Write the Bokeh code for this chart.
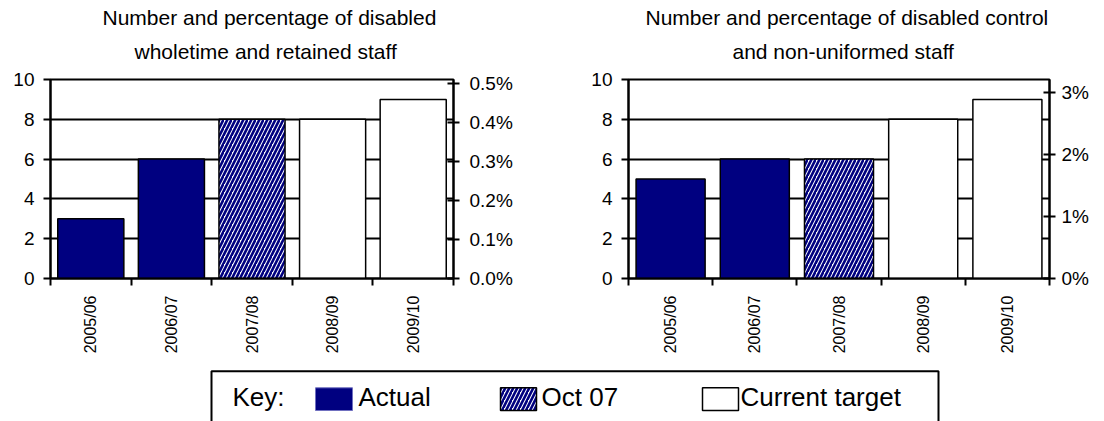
import math

from bokeh.core.properties import value
from bokeh.embed import file_html
from bokeh.layouts import column, row
from bokeh.models import (FixedTicker, Grid, LinearAxis, NumeralTickFormatter,
                          Range1d, Title)
from bokeh.plotting import figure
from bokeh.resources import INLINE

# ---- data -------------------------------------------------------------
years = ["2005/06", "2006/07", "2007/08", "2008/09", "2009/10"]
status = ["Actual", "Actual", "Oct 07", "Current target", "Current target"]
wholetime_retained = [3, 6, 8, 8, 9]
control_nonuniformed = [5, 6, 6, 8, 9]

count_ticks = [0, 2, 4, 6, 8, 10]
count_max = 10
wr_pct_ticks = [0.0, 0.001, 0.002, 0.003, 0.004, 0.005]
wr_pct_max = 0.0051
cn_pct_ticks = [0.0, 0.01, 0.02, 0.03]
cn_pct_max = 0.0321

wr_title = ["Number and percentage of disabled", "wholetime and retained staff"]
cn_title = ["Number and percentage of disabled control", "and non-uniformed staff"]

key_entries = ["Actual", "Oct 07", "Current target"]

# ---- styles -----------------------------------------------------------
FONT = "Liberation Sans"
NAVY = "#000080"
HATCH = dict(hatch_pattern="/", hatch_color=NAVY, hatch_scale=8,
             hatch_weight=2.6)
BAR_STYLE = {
    "Actual": dict(fill_color=NAVY),
    "Oct 07": dict(fill_color="white", **HATCH),
    "Current target": dict(fill_color="white"),
}
CHART_H = 360
BAR_W = 0.82


def make_chart(values, title_lines, pct_max, pct_ticks, pct_fmt, width,
               border_left, border_right, pct_standoff, title_offsets):
    n = len(years)
    p = figure(width=width, height=CHART_H, output_backend="svg",
               toolbar_location=None, x_axis_location=None,
               y_axis_location=None, x_range=Range1d(0, n),
               y_range=Range1d(0, count_max),
               min_border_left=border_left, min_border_right=border_right,
               min_border_top=79, min_border_bottom=CHART_H - 278)
    p.grid.visible = False
    p.extra_y_ranges = {"pct": Range1d(0, pct_max)}
    p.outline_line_color = "black"
    p.outline_line_width = 2

    p.add_layout(Grid(dimension=1, ticker=FixedTicker(ticks=count_ticks[1:-1]),
                      grid_line_color="black", grid_line_width=2))

    centers = [i + 0.5 for i in range(n)]
    for key, style in BAR_STYLE.items():
        xs = [c for c, s in zip(centers, status) if s == key]
        tops = [v for v, s in zip(values, status) if s == key]
        p.vbar(x=xs, top=tops, bottom=0, width=BAR_W, line_color="black",
               line_width=1.5, **style)

    tick_text = dict(major_label_text_font=FONT,
                     major_label_text_color="black")

    left = LinearAxis(ticker=FixedTicker(ticks=count_ticks),
                      major_tick_in=0, major_tick_out=7,
                      minor_tick_in=0, minor_tick_out=0,
                      axis_line_width=2, major_tick_line_width=2,
                      major_label_text_font_size="19px",
                      major_label_standoff=9, **tick_text)
    p.add_layout(left, "left")

    right = LinearAxis(y_range_name="pct",
                       ticker=FixedTicker(ticks=pct_ticks),
                       formatter=NumeralTickFormatter(format=pct_fmt),
                       major_tick_in=6, major_tick_out=6,
                       minor_tick_in=0, minor_tick_out=0,
                       axis_line_width=2, major_tick_line_width=2,
                       major_label_text_font_size="19px",
                       major_label_standoff=pct_standoff, **tick_text)
    p.add_layout(right, "right")

    bottom = LinearAxis(ticker=FixedTicker(ticks=centers,
                                           minor_ticks=list(range(n + 1))),
                        major_label_overrides={c: y for c, y in zip(centers, years)},
                        major_label_orientation=math.pi / 2,
                        major_tick_in=0, major_tick_out=0,
                        minor_tick_in=0, minor_tick_out=7,
                        axis_line_width=2, minor_tick_line_width=2,
                        major_label_text_font_size="16px",
                        major_label_standoff=10, **tick_text)
    p.add_layout(bottom, "below")

    # two-line heading: inner line first, outer line stacked above it
    p.title.visible = False
    for line, standoff, dx in [(title_lines[1], 33, title_offsets[1]),
                               (title_lines[0], -14, title_offsets[0])]:
        p.add_layout(Title(text=line, align="left", offset=dx,
                           standoff=standoff, text_font=FONT,
                           text_font_size="21px", text_font_style="normal",
                           text_color="black"), "above")
    return p


p1 = make_chart(wholetime_retained, wr_title, wr_pct_max, wr_pct_ticks,
                "0.0%", 552, 50, 99, 10, (52, 84))
p2 = make_chart(control_nonuniformed, cn_title, cn_pct_max, cn_pct_ticks,
                "0%", 552, 76, 55, 6, (17, 104))

# ---- key panel --------------------------------------------------------
KEY_H = 421 - CHART_H
key = figure(width=1104, height=KEY_H, output_backend="svg",
             toolbar_location=None, x_axis_location=None,
             y_axis_location=None, x_range=Range1d(0, 1104),
             y_range=Range1d(0, KEY_H), min_border=0)
key.outline_line_color = None
key.grid.visible = False
key.quad(left=211, right=938, top=KEY_H - 10.7, bottom=-10,
         fill_color=None, line_color="black", line_width=2)

swatches = {
    "Actual": dict(left=315, right=352, fill_color=NAVY, line_color="#7070c0",
                   line_width=1),
    "Oct 07": dict(left=500, right=536, fill_color="white",
                   line_color="black", line_width=1.5, **HATCH),
    "Current target": dict(left=702, right=738, fill_color="white",
                           line_color="black", line_width=1.5),
}
label_x = {"Actual": 358, "Oct 07": 541, "Current target": 740}
for name in key_entries:
    key.quad(top=33.7, bottom=11, **swatches[name])
key.text(x=[232] + [label_x[n] for n in key_entries],
         y=[24.5] * (len(key_entries) + 1),
         text=["Key:"] + key_entries,
         text_font=value(FONT), text_font_size="26px",
         text_baseline="middle", text_align="left", text_color="black")

layout = column(row(p1, p2), key)
open("out.html", "w").write(file_html(layout, INLINE))
